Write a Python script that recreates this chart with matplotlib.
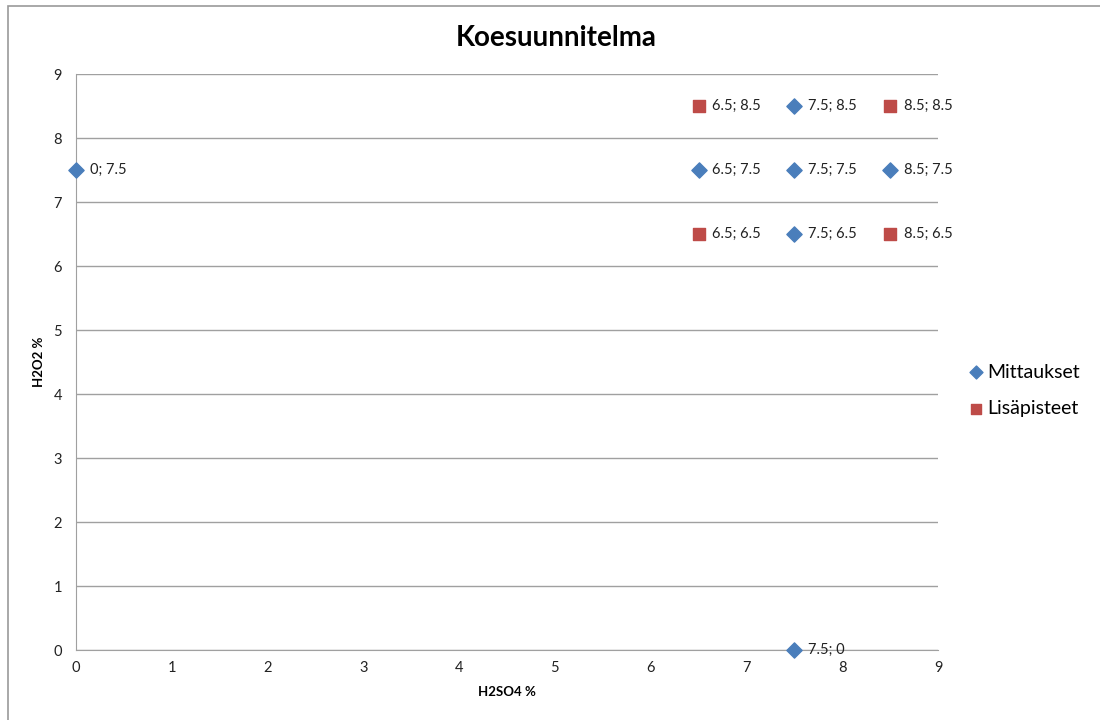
import matplotlib.pyplot as plt
from matplotlib.patches import Rectangle

plt.rcParams['font.family'] = ['Lato', 'DejaVu Sans']

# data
mittaukset_x = [0, 6.5, 7.5, 8.5, 7.5, 7.5, 7.5]
mittaukset_y = [7.5, 7.5, 7.5, 7.5, 8.5, 6.5, 0]
lisapisteet_x = [6.5, 8.5, 6.5, 8.5]
lisapisteet_y = [8.5, 8.5, 6.5, 6.5]
xticks = list(range(0, 10))
yticks = list(range(0, 10))

blue = '#4A7EBB'
red = '#BE4B48'
grid_col = '#A0A0A0'


def fmt(v):
    return str(int(v)) if v == int(v) else str(v)


def main():
    fig = plt.figure(figsize=(11, 7.2), dpi=100)
    ax = fig.add_axes([0.0691, 0.0972, 0.7836, 0.8])

    fig.patches.append(Rectangle((0.0073, -0.1), 1.2, 1.0917, transform=fig.transFigure,
                                 fill=False, edgecolor='#999999', linewidth=1.2))

    ax.scatter(mittaukset_x, mittaukset_y, marker='D', s=60, color=blue, label='Mittaukset',
               zorder=3, clip_on=False)
    ax.scatter(lisapisteet_x, lisapisteet_y, marker='s', s=80, color=red, label='Lisäpisteet',
               zorder=3, clip_on=False)

    for x, y in zip(mittaukset_x + lisapisteet_x, mittaukset_y + lisapisteet_y):
        ax.annotate(f'{fmt(x)}; {fmt(y)}', (x, y), xytext=(10, 0), textcoords='offset points',
                    va='center', ha='left', fontsize=10.5, color='#222222')

    ax.set_xlim(0, 9)
    ax.set_ylim(0, 9)
    ax.set_xticks(xticks)
    ax.set_yticks(yticks)
    ax.tick_params(length=0, labelsize=10.5, pad=10, colors='#222222')
    ax.tick_params(axis='x', pad=8)
    ax.yaxis.grid(True, color=grid_col, linewidth=1)
    ax.set_axisbelow(True)
    for s in ['top', 'right']:
        ax.spines[s].set_visible(False)
    for s in ['left', 'bottom']:
        ax.spines[s].set_color(grid_col)

    fig.suptitle('Koesuunnitelma', x=0.506, y=0.947, va='center', fontsize=20, fontweight='bold')
    ax.set_xlabel('H2SO4 %', fontsize=9.5, fontweight='bold', labelpad=8)
    ax.set_ylabel('H2O2 %', fontsize=9.5, fontweight='bold', labelpad=6)

    ax.legend(loc='center left', bbox_to_anchor=(1.012, 0.451), frameon=False, fontsize=14,
              handletextpad=0.1, labelspacing=1.0, handlelength=1.0, markerscale=0.85)

    fig.savefig('out.png', dpi=100)


if __name__ == "__main__":
    main()
